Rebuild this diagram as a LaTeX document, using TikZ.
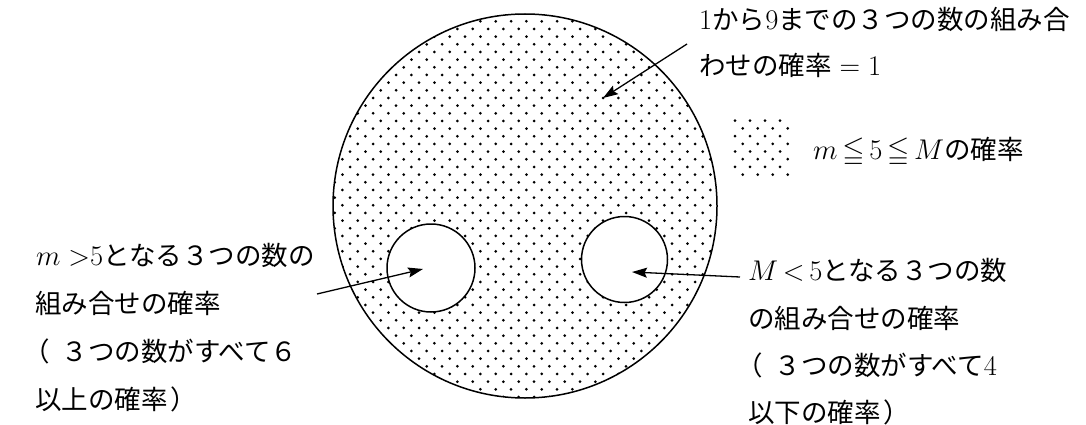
\RequirePackage{fix-cm}
\documentclass[tikz,border=0pt]{standalone}
\usepackage{amssymb}
\usepackage{fontspec}
\newfontfamily\jp{Noto Sans CJK JP}
\usetikzlibrary{arrows.meta}
\newcommand\lparen{\makebox[1em][l]{\hspace{-0.45em}（}}
\newcommand\rparen{\hspace{0.12em}）}
\newcommand\mth[1]{{\fontsize{28.5}{30}\selectfont$#1$}}
\tikzset{
  lbl/.style={anchor=base west, inner sep=0pt, font=\jp\fontsize{26.5}{30}\selectfont},
  ptr/.style={line width=1.3pt, -{Stealth[length=15pt,width=10pt,inset=2.5pt]}},
  ring/.style={line width=1.5pt},
  dot/.style={fill=black}
}
\begin{document}
\begin{tikzpicture}[x=1pt,y=-1pt]
\useasboundingbox (0,0) rectangle (1086,425);
% universe
\coordinate (U) at (525,206);
\begin{scope}
  \clip (U) circle (192pt);
  \foreach \i in {0,...,52}{
    \pgfmathsetmacro\yy{5.97+\i*7.667}
    \pgfmathsetmacro\xs{mod(\i,2)==1 ? 319.4 : 327.07}
    \foreach \j in {0,...,26}{
      \fill[dot] (\xs+\j*15.333,\yy) circle (1.5pt);
    }
  }
\end{scope}
\draw[ring] (U) circle (192pt);
% small regions
\coordinate (A) at (431,268);
\coordinate (B) at (624.5,259.5);
\draw[ring, fill=white] (A) circle (44pt);
\draw[ring, fill=white] (B) circle (43pt);
% legend swatch
\foreach \i in {0,...,7}{
  \pgfmathsetmacro\yy{120.7+\i*7.7}
  \pgfmathsetmacro\xs{mod(\i,2)==1 ? 742.7 : 735}
  \foreach \j in {0,...,3}{
    \fill[dot] (\xs+\j*15,\yy) circle (1.5pt);
  }
}
% labels
\node[lbl] (t1) at (699,29.8) {\mth{1}から\mth{9}までの３つの数の組み合};
\node[lbl] (t2) at (699,75.8) {わせの確率\hspace{0.3em}\mth{=1}};
\node[lbl] (lg) at (813,159.8) {\mth{m\,{\leqq}\,5\,{\leqq}\,M}の確率};
\node[lbl] (l1) at (36,265.8) {\mth{m\;{>}5}となる３つの数の};
\node[lbl] (l2) at (35,313.8) {組み合せの確率};
\node[lbl] (l3) at (35,361.8) {\lparen３つの数がすべて６};
\node[lbl] (l4) at (35,409.8) {以上の確率\rparen};
\node[lbl] (r1) at (748,280.8) {\mth{M\,{<}\,5}となる３つの数};
\node[lbl] (r2) at (748,328.3) {の組み合せの確率};
\node[lbl] (r3) at (748,375.3) {\lparen３つの数がすべて\mth{4}};
\node[lbl] (r4) at (748,422.3) {以下の確率\rparen};
% arrows
\coordinate (ts) at (687,44);
\coordinate (te) at (603,98);
\coordinate (ls) at (317,294);
\coordinate (le) at (423,269);
\coordinate (rs) at (740,277);
\coordinate (re) at (632,272);
\draw[ptr] (ts) -- (te);
\draw[ptr] (ls) -- (le);
\draw[ptr] (rs) -- (re);
\end{tikzpicture}
\end{document}
